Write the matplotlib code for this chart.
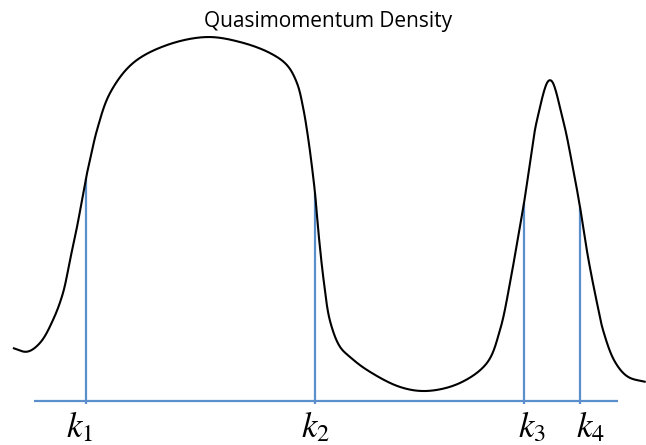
import numpy as np
from matplotlib import pyplot as plt

# curve: x position and density above the baseline
curve_x = [13, 27, 40, 53, 63, 70, 77, 82, 86, 90, 97, 110, 133, 167, 207, 240, 270,
           287, 297, 303, 308, 312, 315, 319, 324, 330, 340, 350, 367, 400, 427,
           460, 487, 500, 510, 518, 524, 530, 537, 550, 563, 572, 580,
           588, 597, 603, 615, 628, 646]
curve_y = [53, 49, 58, 81, 108, 141, 174, 201, 223, 241, 271, 308, 338, 356, 364,
           359, 348, 336, 318, 294, 264, 234, 208, 163, 118, 80, 54, 44, 31, 14, 10,
           18, 38, 71, 118, 164, 198, 238, 281, 322, 281, 238, 194,
           144, 98, 71, 39, 24, 19]

k_pos = [86, 315, 524, 580]
k_labels = [r'$k_1$', r'$k_2$', r'$k_3$', r'$k_4$']
title = 'Quasimomentum Density'


def smooth(x, y, n=24, alpha=0.5, sigma=2.5):
    # centripetal catmull-rom through the read points, then a light blur
    p = np.column_stack([x, y]).astype(float)
    p = np.vstack([2 * p[0] - p[1], p, 2 * p[-1] - p[-2]])
    out = []
    for i in range(1, len(p) - 2):
        p0, p1, p2, p3 = p[i - 1], p[i], p[i + 1], p[i + 2]
        t0 = 0.0
        t1 = t0 + np.linalg.norm(p1 - p0) ** alpha
        t2 = t1 + np.linalg.norm(p2 - p1) ** alpha
        t3 = t2 + np.linalg.norm(p3 - p2) ** alpha
        t = np.linspace(t1, t2, n, endpoint=False)[:, None]
        a1 = (t1 - t) / (t1 - t0) * p0 + (t - t0) / (t1 - t0) * p1
        a2 = (t2 - t) / (t2 - t1) * p1 + (t - t1) / (t2 - t1) * p2
        a3 = (t3 - t) / (t3 - t2) * p2 + (t - t2) / (t3 - t2) * p3
        b1 = (t2 - t) / (t2 - t0) * a1 + (t - t0) / (t2 - t0) * a2
        b2 = (t3 - t) / (t3 - t1) * a2 + (t - t1) / (t3 - t1) * a3
        out.append((t2 - t) / (t2 - t1) * b1 + (t - t1) / (t2 - t1) * b2)
    out.append(p[-2][None, :])
    s = np.vstack(out)

    # even spacing along the line, 0.5 units apart
    seg = np.hypot(*np.diff(s, axis=0).T)
    arc = np.concatenate([[0], np.cumsum(seg)])
    u = np.arange(0, arc[-1], 0.5)
    rx = np.interp(u, arc, s[:, 0])
    ry = np.interp(u, arc, s[:, 1])
    w = int(4 * sigma / 0.5)
    g = np.exp(-0.5 * (np.arange(-w, w + 1) * 0.5 / sigma) ** 2)
    g /= g.sum()
    rx = np.convolve(np.pad(rx, w, mode='edge'), g, mode='valid')
    ry = np.convolve(np.pad(ry, w, mode='edge'), g, mode='valid')
    return rx, ry


if __name__ == '__main__':
    sx, sy = smooth(curve_x, curve_y)
    blue = '#5B8FCB'

    fig = plt.figure(figsize=(6.46, 4.45), dpi=100)
    ax = fig.add_axes([0, 0, 1, 1])
    ax.set_xlim(0, 646)
    ax.set_ylim(-44, 401)
    ax.axis('off')

    ax.plot([34, 618], [0, 0], color=blue, lw=1.6, solid_capstyle='butt')
    for k in k_pos:
        ax.plot([k, k], [-3, np.interp(k, sx, sy)], color=blue, lw=1.6,
                solid_capstyle='butt')
    ax.plot(sx, sy, color='black', lw=1.5)

    # labels sit a little off their lines, as in the original
    label_shift = [-7, 0, 8, 10]
    for k, dx, lab in zip(k_pos, label_shift, k_labels):
        ax.text(k + dx, -36, lab, fontsize=25, ha='center', va='baseline',
                math_fontfamily='stix')

    ax.text(328, 374, title, fontsize=15, ha='center', va='baseline',
            family='Open Sans')

    fig.savefig('out.png', dpi=100)
